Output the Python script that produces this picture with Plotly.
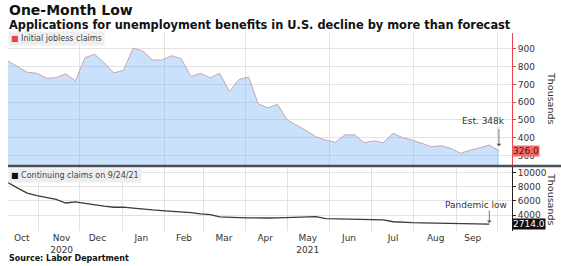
import plotly.graph_objects as go
import pandas as pd

# ---- data ----
INITIAL_START = "2020-10-10"   # weekly, week-ending dates
INITIAL_CLAIMS = [832, 800, 769, 763, 735, 738, 760, 721, 851, 870,
                  822, 765, 780, 904, 889, 838, 838, 862, 845, 745,
                  763, 738, 763, 660, 728, 742, 590, 569, 588, 500,
                  470, 440, 405, 387, 374, 416, 417, 372, 382, 372,
                  425, 400, 386, 368, 350, 355, 340, 312, 330, 343,
                  359, 326]
CONT_START = "2020-10-03"
CONT_CLAIMS = [9800, 8600, 7800, 7100, 6750, 6500, 6200, 5700, 5850, 5650,
               5420, 5250, 5100, 5100, 4980, 4820, 4720, 4630, 4550, 4450,
               4350, 4150, 4050, 3750, 3650, 3630, 3600, 3560, 3580, 3600,
               3640, 3680, 3700, 3760, 3480, 3450, 3430, 3400, 3350, 3330,
               3300, 3050, 2950, 2930, 2900, 2870, 2850, 2780, 2720, 2740,
               2760, 2714]
MONTH_TICK_DATES = ["2020-10-20", "2020-11-18", "2020-12-14", "2021-01-15",
                    "2021-02-15", "2021-03-16", "2021-04-15", "2021-05-16",
                    "2021-06-15", "2021-07-17", "2021-08-17", "2021-09-13"]
MONTH_TICK_TEXT = ["Oct", "Nov<br>2020", "Dec", "Jan", "Feb", "Mar", "Apr",
                   "May<br>2021", "Jun", "Jul", "Aug", "Sep"]
TOP_TICKS = [300, 400, 500, 600, 700, 800, 900]
BOTTOM_TICKS = [4000, 6000, 8000, 10000]
ESTIMATE = 348

init_dates = pd.date_range(INITIAL_START, periods=len(INITIAL_CLAIMS), freq="7D")
cont_dates = pd.date_range(CONT_START, periods=len(CONT_CLAIMS), freq="7D")

FONT = "DejaVu Sans"
RED = "#e8434b"
GRID = "#e2e2e2"

fig = go.Figure()
fig.add_trace(go.Scatter(
    x=init_dates, y=INITIAL_CLAIMS, mode="lines", fill="tozeroy",
    line=dict(color="#c9a3b6", width=1),
    fillcolor="rgba(120,180,245,0.40)", xaxis="x", yaxis="y",
    showlegend=False, hoverinfo="skip"))
fig.add_trace(go.Scatter(
    x=cont_dates, y=CONT_CLAIMS, mode="lines",
    line=dict(color="#3a3a3a", width=1.3), xaxis="x2", yaxis="y2",
    showlegend=False, hoverinfo="skip"))

xrange = ["2020-10-10", "2021-10-11 12:00"]
minor = dict(dtick="M1", tick0="2020-11-01", showgrid=True, gridcolor=GRID,
             gridwidth=1, ticklen=0)

def ypx(y):
    return (231 - y) / 198.0

def xpx(x):
    return (x - 8) / 504.0

fig.update_layout(
    width=561, height=266,
    margin=dict(l=8, r=49, t=33, b=35, autoexpand=False),
    paper_bgcolor="white", plot_bgcolor="white",
    font=dict(family=FONT, size=9, color="#333"),
    xaxis=dict(domain=[0, 1], anchor="y", type="date", range=xrange,
               showticklabels=False, showgrid=False, minor=minor,
               showline=False, zeroline=False, ticks="", automargin=False),
    xaxis2=dict(domain=[0, 1], anchor="y2", type="date", range=xrange,
                tickvals=MONTH_TICK_DATES, ticktext=MONTH_TICK_TEXT,
                showgrid=False, minor=minor, showline=False, ticks="",
                tickfont=dict(size=9, color="#333"), zeroline=False,
                automargin=False),
    yaxis=dict(domain=[0.333, 1], anchor="x", side="right",
               range=[246, 990], tickvals=TOP_TICKS,
               ticktext=[str(v) for v in TOP_TICKS], showgrid=True,
               gridcolor=GRID, showline=True, linecolor=RED, linewidth=1,
               ticks="outside", tickcolor=RED, ticklen=3,
               tickfont=dict(size=9, color="#333"), zeroline=False,
               automargin=False),
    yaxis2=dict(domain=[0, 0.323], anchor="x2", side="right",
                range=[1740, 10780], tickvals=BOTTOM_TICKS,
                ticktext=[str(v) for v in BOTTOM_TICKS], showgrid=True,
                gridcolor=GRID, showline=True, linecolor="#222", linewidth=1,
                ticks="outside", tickcolor="#222", ticklen=3,
                tickfont=dict(size=9, color="#333"), zeroline=False,
                automargin=False),
)

fig.add_shape(type="line", xref="paper", yref="paper", x0=0, x1=xpx(561),
              y0=ypx(166), y1=ypx(166), line=dict(color="#4a4e57", width=2.5))

ann = []
ann.append(dict(xref="paper", yref="paper", x=xpx(7), y=ypx(10),
                xanchor="left", yanchor="middle", showarrow=False,
                text="<b>One-Month Low</b>",
                font=dict(family=FONT, size=14, color="#111")))
ann.append(dict(xref="paper", yref="paper", x=xpx(7), y=ypx(25),
                xanchor="left", yanchor="middle", showarrow=False,
                text="<b>Applications for unemployment benefits in U.S. decline by more than forecast</b>",
                font=dict(family=FONT, size=11.4, color="#111")))
ann.append(dict(xref="paper", yref="paper", x=xpx(7), y=ypx(258),
                xanchor="left", yanchor="middle", showarrow=False,
                text="<b>Source: Labor Department</b>",
                font=dict(family=FONT, size=8, color="#111")))
ann.append(dict(xref="paper", yref="paper", x=0, y=ypx(39),
                xanchor="left", yanchor="middle", showarrow=False,
                text=f'<span style="color:{RED}">■</span> Initial jobless claims',
                bgcolor="#eeeeee", borderpad=2,
                font=dict(family=FONT, size=8, color="#444")))
ann.append(dict(xref="paper", yref="paper", x=0, y=ypx(175.5),
                xanchor="left", yanchor="middle", showarrow=False,
                text='<span style="color:#111">■</span> Continuing claims on 9/24/21',
                bgcolor="#eeeeee", borderpad=2,
                font=dict(family=FONT, size=8, color="#444")))
ann.append(dict(xref="paper", yref="paper", x=xpx(552), y=ypx(98),
                xanchor="center", yanchor="middle", showarrow=False,
                text="Thousands", textangle=90,
                font=dict(family=FONT, size=9.5, color="#333")))
ann.append(dict(xref="paper", yref="paper", x=xpx(552), y=ypx(199),
                xanchor="center", yanchor="middle", showarrow=False,
                text="Thousands", textangle=90,
                font=dict(family=FONT, size=9.5, color="#333")))
# last-value tags
ann.append(dict(xref="paper", yref="y", x=1.0, y=INITIAL_CLAIMS[-1],
                xanchor="left", yanchor="middle", showarrow=False,
                text=f"{INITIAL_CLAIMS[-1]:.1f}", bgcolor="#f06a6a",
                borderpad=0, font=dict(family=FONT, size=9, color="#5a0a0a")))
ann.append(dict(xref="paper", yref="y2", x=1.0, y=CONT_CLAIMS[-1],
                xanchor="left", yanchor="middle", showarrow=False,
                text=f"{CONT_CLAIMS[-1]:.1f}", bgcolor="#111111",
                borderpad=0, font=dict(family=FONT, size=9, color="white")))
# estimate note
ann.append(dict(xref="paper", yref="paper", x=xpx(483), y=ypx(121),
                xanchor="center", yanchor="middle", showarrow=False,
                text=f"Est. {ESTIMATE}k",
                font=dict(family=FONT, size=9, color="#333")))
ann.append(dict(xref="x", yref="y", x=init_dates[-1], y=352,
                ax=0, ay=-19, showarrow=True, text="", arrowhead=1,
                arrowsize=1, arrowwidth=0.8, arrowcolor="#555"))
ann.append(dict(xref="paper", yref="paper", x=xpx(476), y=ypx(205),
                xanchor="center", yanchor="middle", showarrow=False,
                text="Pandemic low",
                font=dict(family=FONT, size=9, color="#333")))
ann.append(dict(xref="x2", yref="y2", x=cont_dates[-1], y=2870,
                ax=0, ay=-14, showarrow=True, text="", arrowhead=1,
                arrowsize=1, arrowwidth=0.8, arrowcolor="#555"))
fig.update_layout(annotations=ann)

fig.write_html("out.html", config={"displayModeBar": False},
               post_script="document.body.style.margin='0';document.body.style.overflow='hidden';")
